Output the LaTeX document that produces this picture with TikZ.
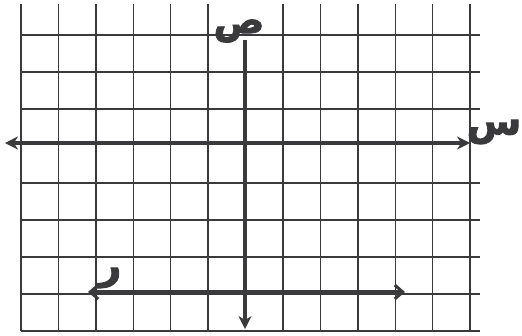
\documentclass[tikz,border=0pt]{standalone}
\usepackage{fontspec}
\newfontfamily\arabicfont[Script=Arabic,BoldFeatures={FakeBold=2}]{DejaVu Sans}
\TeXXeTstate=1
\usetikzlibrary{arrows.meta}
\definecolor{ink}{HTML}{3A3A3C}
\tikzset{
  gridline/.style={ink, line width=1.4bp},
  axisline/.style={ink, line width=4bp, {Stealth[length=13bp,width=13bp]}-{Stealth[length=13bp,width=13bp]}},
  lowline/.style={ink, line width=3.5bp, {Straight Barb[length=8bp,width=14bp,line width=3bp]}-{Straight Barb[length=8bp,width=14bp,line width=3bp]}},
  lbl/.style={ink, inner sep=0pt}
}
\begin{document}
\begin{tikzpicture}[x=1bp,y=-1bp]
\useasboundingbox (0,0) rectangle (522,335);
% grid
\foreach \x in {21,58.4,95.8,133.2,170.6,208,283,320.4,357.8,395.2,432.6,470}
  \draw[gridline] (\x,4) -- (\x,331);
\foreach \y in {35,72,109,183,220,257,294,331}
  \draw[gridline] (21,\y) -- (480,\y);
% axes
\coordinate (xl) at (5,143);
\coordinate (xr) at (470,143);
\coordinate (yt) at (245,40);
\coordinate (yb) at (245,329);
\coordinate (ll) at (88,292);
\coordinate (lr) at (405,292);
\draw[axisline] (xl) -- (xr);
\draw[ink, line width=4bp, -{Stealth[length=13bp,width=13bp]}] (yt) -- (yb);
\draw[lowline] (ll) -- (lr);
% labels
\node[lbl, font=\arabicfont\bfseries\fontsize{38}{38}\selectfont] (sad) at (239,31) {\beginR ص\endR};
\node[lbl, font=\arabicfont\bfseries\fontsize{40}{40}\selectfont] (sin) at (494,132) {\beginR س\endR};
\node[lbl, font=\arabicfont\bfseries\fontsize{40}{40}\selectfont] (ra) at (110,278) {\beginR ر\endR};
\end{tikzpicture}
\end{document}
